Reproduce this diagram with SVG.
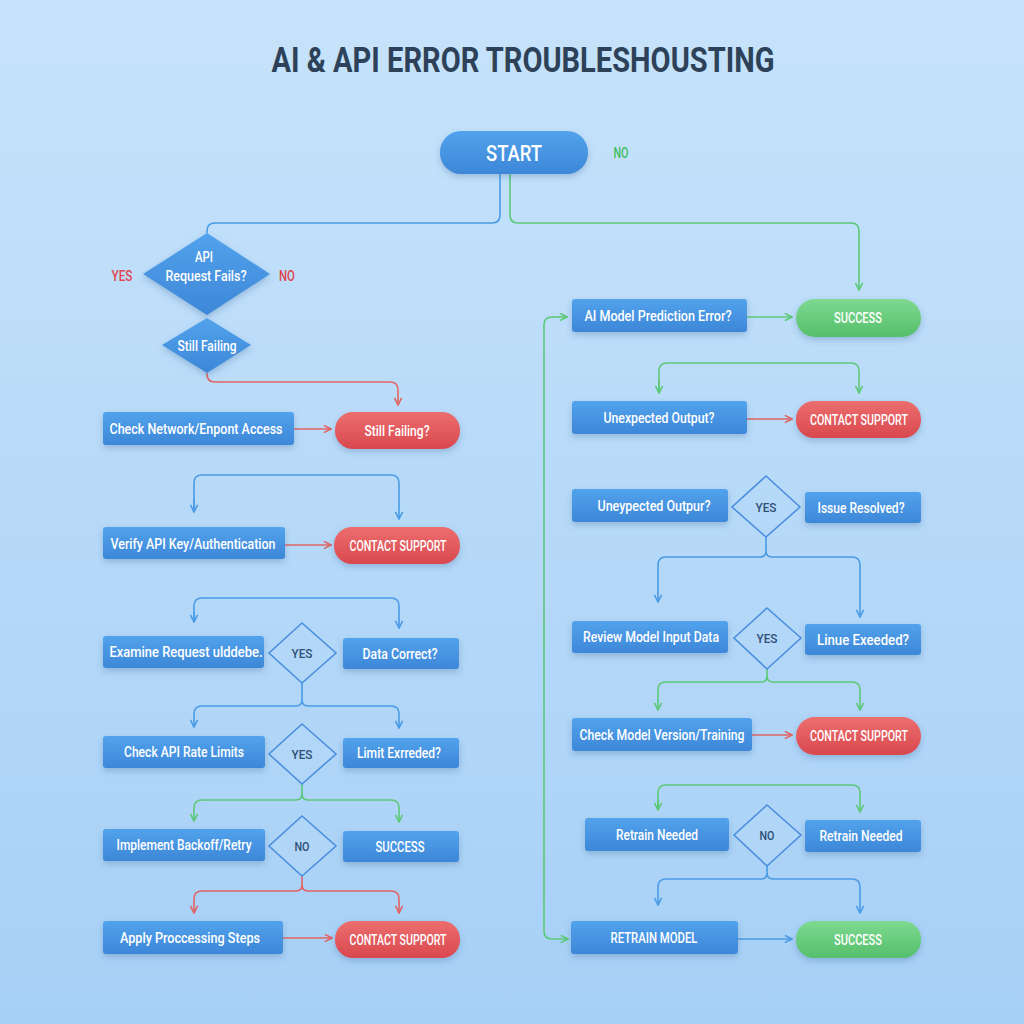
<svg xmlns="http://www.w3.org/2000/svg" width="1024" height="1024" viewBox="0 0 1024 1024">
<defs>
<linearGradient id="bg" x1="0" y1="0" x2="0" y2="1"><stop offset="0" stop-color="#c7e3fb"/><stop offset="1" stop-color="#a7d0f6"/></linearGradient>
<linearGradient id="gb" x1="0" y1="0" x2="0" y2="1"><stop offset="0" stop-color="#52a2ec"/><stop offset="1" stop-color="#3d87d8"/></linearGradient>
<linearGradient id="gr" x1="0" y1="0" x2="0" y2="1"><stop offset="0" stop-color="#ec6e6e"/><stop offset="1" stop-color="#d9484e"/></linearGradient>
<linearGradient id="gg" x1="0" y1="0" x2="0" y2="1"><stop offset="0" stop-color="#7ed991"/><stop offset="1" stop-color="#55bf6b"/></linearGradient>
<filter id="sh" x="-20%" y="-30%" width="140%" height="170%"><feDropShadow dx="0" dy="3" stdDeviation="3" flood-color="#2a5a8a" flood-opacity="0.28"/></filter>
<marker id="ab" viewBox="0 0 10 10" refX="9" refY="5" markerWidth="9" markerHeight="9" markerUnits="userSpaceOnUse" orient="auto"><path d="M1,1 L9,5 L1,9" fill="none" stroke="#4a9be6" stroke-width="1.8"/></marker>
<marker id="ar" viewBox="0 0 10 10" refX="9" refY="5" markerWidth="9" markerHeight="9" markerUnits="userSpaceOnUse" orient="auto"><path d="M1,1 L9,5 L1,9" fill="none" stroke="#e06464" stroke-width="1.8"/></marker>
<marker id="ag" viewBox="0 0 10 10" refX="9" refY="5" markerWidth="9" markerHeight="9" markerUnits="userSpaceOnUse" orient="auto"><path d="M1,1 L9,5 L1,9" fill="none" stroke="#5cc878" stroke-width="1.8"/></marker>
</defs>
<style>
text{font-family:Roboto,"Liberation Sans",sans-serif;font-weight:500;text-anchor:middle}
.t{fill:#ffffff;font-size:15px}
.title{fill:#2d4259;font-size:35px;font-weight:700}
.box{fill:url(#gb);filter:url(#sh)}
.red{fill:url(#gr);filter:url(#sh)}
.grn{fill:url(#gg);filter:url(#sh)}
.dia{fill:url(#gb);filter:url(#sh)}
.odia{fill:#b4d8f8;fill-opacity:0.5;stroke:#4a8fdf;stroke-width:1.6}
.dt{fill:#2f4f78;font-size:13px}
.lr{fill:#e0474f;font-size:14px}
.lg{fill:#3fbf5f;font-size:14px}
.cb{fill:none;stroke:#4a9be6;stroke-width:1.6}
.cr{fill:none;stroke:#e06464;stroke-width:1.6}
.cg{fill:none;stroke:#5cc878;stroke-width:1.6}
</style>
<rect width="1024" height="1024" fill="url(#bg)"/>
<text class="title" x="523" y="72" textLength="503" lengthAdjust="spacingAndGlyphs">AI &amp; API ERROR TROUBLESHOUSTING</text>

<g id="connectors">
<path class="cb" d="M500,174 V215 Q500,223 492,223 H215 Q207,223 207,231 V233"/>
<path class="cg" d="M510,174 V215 Q510,223 518,223 H851 Q859,223 859,231 V290" marker-end="url(#ag)"/>
<path class="cr" d="M207,373 V374 Q207,382 215,382 H390 Q398,382 398,390 V405" marker-end="url(#ar)"/>
<path class="cr" d="M294,429 H331" marker-end="url(#ar)"/>
<path class="cb" d="M194,512 V483 Q194,475 202,475 H391 Q399,475 399,483 V519" marker-end="url(#ab)"/>
<path class="cb" d="M194,498 V512" marker-end="url(#ab)"/>
<path class="cr" d="M285,545 H331" marker-end="url(#ar)"/>
<path class="cb" d="M194,622 V606 Q194,598 202,598 H391 Q399,598 399,606 V628" marker-end="url(#ab)"/>
<path class="cb" d="M194,612 V622" marker-end="url(#ab)"/>
<path class="cb" d="M302,683 V700 Q302,706 296,706 H202 Q194,706 194,714 V727" marker-end="url(#ab)"/>
<path class="cb" d="M302,700 Q302,706 308,706 H391 Q399,706 399,714 V728" marker-end="url(#ab)"/>
<path class="cg" d="M302,784 V794 Q302,800 296,800 H202 Q194,800 194,808 V821" marker-end="url(#ag)"/>
<path class="cg" d="M302,794 Q302,800 308,800 H391 Q399,800 399,808 V822" marker-end="url(#ag)"/>
<path class="cr" d="M302,876 V885 Q302,891 296,891 H202 Q194,891 194,899 V913" marker-end="url(#ar)"/>
<path class="cr" d="M302,885 Q302,891 308,891 H391 Q399,891 399,899 V913" marker-end="url(#ar)"/>
<path class="cr" d="M283,938 H332" marker-end="url(#ar)"/>

<path class="cg" d="M552,317 Q544,317 544,325 V931 Q544,939 552,939 H568" marker-end="url(#ag)"/>
<path class="cg" d="M552,317 H567" marker-end="url(#ag)"/>
<path class="cg" d="M747,317 H792" marker-end="url(#ag)"/>
<path class="cg" d="M659,393 V371 Q659,363 667,363 H851 Q859,363 859,371 V393" marker-end="url(#ag)"/>
<path class="cg" d="M659,380 V393" marker-end="url(#ag)"/>
<path class="cr" d="M747,419 H792" marker-end="url(#ar)"/>
<path class="cb" d="M766,537 V551 Q766,557 760,557 H666 Q658,557 658,565 V602" marker-end="url(#ab)"/>
<path class="cb" d="M766,551 Q766,557 772,557 H852 Q860,557 860,565 V617" marker-end="url(#ab)"/>
<path class="cg" d="M767,669 V676 Q767,682 761,682 H666 Q658,682 658,690 V710" marker-end="url(#ag)"/>
<path class="cg" d="M767,676 Q767,682 773,682 H852 Q860,682 860,690 V710" marker-end="url(#ag)"/>
<path class="cr" d="M752,735 H792" marker-end="url(#ar)"/>
<path class="cg" d="M658,810 V793 Q658,785 666,785 H852 Q860,785 860,793 V812" marker-end="url(#ag)"/>
<path class="cg" d="M658,800 V810" marker-end="url(#ag)"/>
<path class="cb" d="M767,866 V873 Q767,879 761,879 H666 Q658,879 658,887 V905" marker-end="url(#ab)"/>
<path class="cb" d="M767,873 Q767,879 773,879 H852 Q860,879 860,887 V913" marker-end="url(#ab)"/>
<path class="cb" d="M738,939 H792" marker-end="url(#ab)"/>
</g>

<g id="start"><rect class="box" x="440" y="131" width="148" height="43" rx="21"/><text class="t" x="514" y="161" style="font-size:22px" textLength="56" lengthAdjust="spacingAndGlyphs">START</text></g>
<g id="start-no"><text class="lg" x="621" y="158" textLength="15" lengthAdjust="spacingAndGlyphs">NO</text></g>

<g id="api-fails"><polygon class="dia" points="207,233 270,274 207,315 143,274"/>
<text class="t" x="204" y="262" style="font-size:14px" textLength="18" lengthAdjust="spacingAndGlyphs">API</text>
<text class="t" x="206" y="281" style="font-size:14px" textLength="81" lengthAdjust="spacingAndGlyphs">Request Fails?</text></g>
<g id="lbl-yes"><text class="lr" x="122" y="281" textLength="21" lengthAdjust="spacingAndGlyphs">YES</text></g>
<g id="lbl-no"><text class="lr" x="287" y="281" textLength="16" lengthAdjust="spacingAndGlyphs">NO</text></g>
<g id="still-failing-d"><polygon class="dia" points="207,318 251,345 207,373 162,345"/>
<text class="t" x="207" y="351" style="font-size:14px" textLength="59" lengthAdjust="spacingAndGlyphs">Still Failing</text></g>

<g id="check-network"><rect class="box" x="103" y="412" width="191" height="33" rx="3"/><text class="t" x="196" y="434" textLength="173" lengthAdjust="spacingAndGlyphs">Check Network/Enpont Access</text></g>
<g id="still-failing"><rect class="red" x="335" y="412" width="125" height="37" rx="18"/><text class="t" x="397" y="436" textLength="65" lengthAdjust="spacingAndGlyphs">Still Failing?</text></g>

<g id="verify"><rect class="box" x="103" y="527" width="182" height="32" rx="3"/><text class="t" x="193" y="549" textLength="165" lengthAdjust="spacingAndGlyphs">Verify API Key/Authentication</text></g>
<g id="contact1"><rect class="red" x="334" y="527" width="126" height="37" rx="18"/><text class="t" x="398" y="551" style="font-size:14px" textLength="97" lengthAdjust="spacingAndGlyphs">CONTACT SUPPORT</text></g>

<g id="examine"><rect class="box" x="103" y="636" width="161" height="32" rx="3"/><text class="t" x="186" y="657" textLength="153" lengthAdjust="spacingAndGlyphs">Examine Request ulddebe.</text></g>
<g id="dec1"><polygon class="odia" points="302,623 336,653 302,683 269,653"/><text class="dt" x="302" y="658" textLength="21" lengthAdjust="spacingAndGlyphs">YES</text></g>
<g id="data-correct"><rect class="box" x="343" y="638" width="116" height="31" rx="3"/><text class="t" x="400" y="659" textLength="75" lengthAdjust="spacingAndGlyphs">Data Correct?</text></g>

<g id="rate-limits"><rect class="box" x="103" y="736" width="162" height="32" rx="3"/><text class="t" x="184" y="757" textLength="120" lengthAdjust="spacingAndGlyphs">Check API Rate Limits</text></g>
<g id="dec2"><polygon class="odia" points="302,724 336,754 302,784 269,754"/><text class="dt" x="302" y="759" textLength="21" lengthAdjust="spacingAndGlyphs">YES</text></g>
<g id="limit-exceeded"><rect class="box" x="343" y="738" width="116" height="30" rx="3"/><text class="t" x="399" y="758" textLength="84" lengthAdjust="spacingAndGlyphs">Limit Exrreded?</text></g>

<g id="backoff"><rect class="box" x="103" y="829" width="162" height="32" rx="3"/><text class="t" x="184" y="850" textLength="135" lengthAdjust="spacingAndGlyphs">Implement Backoff/Retry</text></g>
<g id="dec3"><polygon class="odia" points="302,816 336,846 302,876 269,846"/><text class="dt" x="302" y="851" textLength="15" lengthAdjust="spacingAndGlyphs">NO</text></g>
<g id="success-left"><rect class="box" x="343" y="831" width="116" height="31" rx="3"/><text class="t" x="400" y="852" style="font-size:14px" textLength="49" lengthAdjust="spacingAndGlyphs">SUCCESS</text></g>

<g id="processing"><rect class="box" x="103" y="921" width="180" height="33" rx="3"/><text class="t" x="190" y="943" textLength="140" lengthAdjust="spacingAndGlyphs">Apply Proccessing Steps</text></g>
<g id="contact2"><rect class="red" x="335" y="921" width="125" height="37" rx="18"/><text class="t" x="398" y="945" style="font-size:14px" textLength="97" lengthAdjust="spacingAndGlyphs">CONTACT SUPPORT</text></g>

<g id="ai-model"><rect class="box" x="572" y="299" width="175" height="33" rx="3"/><text class="t" x="658" y="321" textLength="147" lengthAdjust="spacingAndGlyphs">AI Model Prediction Error?</text></g>
<g id="success1"><rect class="grn" x="796" y="299" width="125" height="38" rx="19"/><text class="t" x="858" y="323" style="font-size:14px" textLength="48" lengthAdjust="spacingAndGlyphs">SUCCESS</text></g>

<g id="unexpected1"><rect class="box" x="572" y="401" width="175" height="33" rx="3"/><text class="t" x="659" y="423" textLength="111" lengthAdjust="spacingAndGlyphs">Unexpected Output?</text></g>
<g id="contact3"><rect class="red" x="796" y="401" width="125" height="37" rx="18"/><text class="t" x="859" y="425" style="font-size:14px" textLength="98" lengthAdjust="spacingAndGlyphs">CONTACT SUPPORT</text></g>

<g id="unexpected2"><rect class="box" x="572" y="489" width="156" height="33" rx="3"/><text class="t" x="654" y="511" textLength="113" lengthAdjust="spacingAndGlyphs">Uneypected Outpur?</text></g>
<g id="dec4"><polygon class="odia" points="766,476 800,507 766,537 732,507"/><text class="dt" x="766" y="512" textLength="21" lengthAdjust="spacingAndGlyphs">YES</text></g>
<g id="issue-resolved"><rect class="box" x="805" y="492" width="116" height="31" rx="3"/><text class="t" x="861" y="513" textLength="87" lengthAdjust="spacingAndGlyphs">Issue Resolved?</text></g>

<g id="review"><rect class="box" x="572" y="621" width="156" height="32" rx="3"/><text class="t" x="651" y="642" textLength="136" lengthAdjust="spacingAndGlyphs">Review Model Input Data</text></g>
<g id="dec5"><polygon class="odia" points="767,608 801,638 767,669 734,638"/><text class="dt" x="767" y="643" textLength="21" lengthAdjust="spacingAndGlyphs">YES</text></g>
<g id="linue"><rect class="box" x="805" y="624" width="116" height="31" rx="3"/><text class="t" x="863" y="645" textLength="92" lengthAdjust="spacingAndGlyphs">Linue Exeeded?</text></g>

<g id="check-model"><rect class="box" x="572" y="718" width="180" height="33" rx="3"/><text class="t" x="662" y="740" textLength="165" lengthAdjust="spacingAndGlyphs">Check Model Version/Training</text></g>
<g id="contact4"><rect class="red" x="796" y="717" width="125" height="38" rx="19"/><text class="t" x="859" y="741" style="font-size:14px" textLength="98" lengthAdjust="spacingAndGlyphs">CONTACT SUPPORT</text></g>

<g id="retrain1"><rect class="box" x="585" y="818" width="144" height="33" rx="3"/><text class="t" x="657" y="840" textLength="82" lengthAdjust="spacingAndGlyphs">Retrain Needed</text></g>
<g id="dec6"><polygon class="odia" points="767,805 801,835 767,866 734,835"/><text class="dt" x="767" y="840" textLength="15" lengthAdjust="spacingAndGlyphs">NO</text></g>
<g id="retrain2"><rect class="box" x="805" y="820" width="116" height="32" rx="3"/><text class="t" x="861" y="841" textLength="83" lengthAdjust="spacingAndGlyphs">Retrain Needed</text></g>

<g id="retrain-model"><rect class="box" x="571" y="921" width="167" height="33" rx="3"/><text class="t" x="654" y="943" style="font-size:14px" textLength="87" lengthAdjust="spacingAndGlyphs">RETRAIN MODEL</text></g>
<g id="success2"><rect class="grn" x="796" y="921" width="125" height="37" rx="18"/><text class="t" x="858" y="945" style="font-size:14px" textLength="48" lengthAdjust="spacingAndGlyphs">SUCCESS</text></g>
</svg>
